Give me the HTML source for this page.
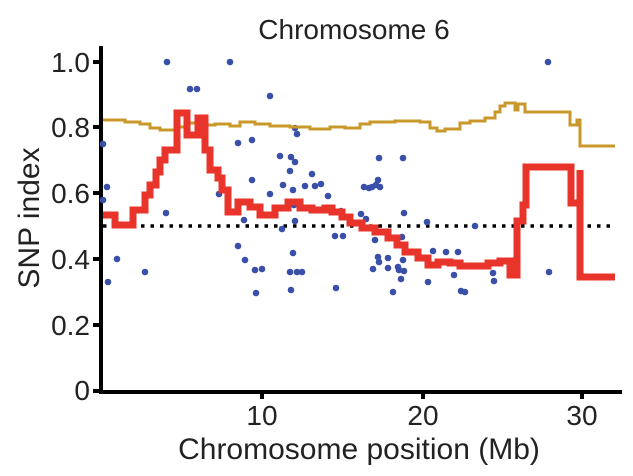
<!DOCTYPE html>
<html><head><meta charset="utf-8"><style>body{margin:0;background:#fff}svg{display:block}</style></head><body>
<svg width="633" height="476" xmlns="http://www.w3.org/2000/svg" font-family="Liberation Sans, sans-serif">
<text x="354" y="39" font-size="28" text-anchor="middle" fill="#222">Chromosome 6</text>
<text x="359" y="459" font-size="30" text-anchor="middle" fill="#222">Chromosome position (Mb)</text>
<text transform="translate(39,218) rotate(-90)" font-size="30" text-anchor="middle" fill="#222">SNP index</text>
<g font-size="28" fill="#222" text-anchor="end">
<text x="90" y="72">1.0</text><text x="90" y="137">0.8</text><text x="90" y="203">0.6</text>
<text x="90" y="269">0.4</text><text x="90" y="335">0.2</text><text x="90" y="400">0</text>
</g>
<g font-size="28" fill="#222" text-anchor="middle">
<text x="262" y="425">10</text><text x="423" y="425">20</text><text x="582" y="425">30</text>
</g>
<g stroke="#000" stroke-width="4" fill="none">
<path d="M101 46 V392 H622"/>
<path d="M93 62H101M93 127H101M93 193H101M93 259H101M93 325H101M93 391H101"/>
<path d="M262 391V399M423 391V399M582 391V399"/>
</g>
<line x1="103" y1="226" x2="615" y2="226" stroke="#000" stroke-width="3.5" stroke-dasharray="3.5,6"/>
<g fill="#3a4fa8">
<circle cx="103" cy="144" r="3.3"/><circle cx="107" cy="187" r="3.3"/><circle cx="103" cy="200" r="3.3"/><circle cx="108" cy="282" r="3.3"/><circle cx="117" cy="259" r="3.3"/><circle cx="145" cy="272" r="3.3"/><circle cx="167" cy="62" r="3.3"/><circle cx="166" cy="213" r="3.3"/><circle cx="190" cy="89" r="3.3"/><circle cx="197" cy="89" r="3.3"/><circle cx="219" cy="194" r="3.3"/><circle cx="230" cy="62" r="3.3"/><circle cx="238" cy="143" r="3.3"/><circle cx="245" cy="260" r="3.3"/><circle cx="238" cy="246" r="3.3"/><circle cx="244" cy="220" r="3.3"/><circle cx="252" cy="140" r="3.3"/><circle cx="255" cy="270" r="3.3"/><circle cx="262" cy="269" r="3.3"/><circle cx="252" cy="180" r="3.3"/><circle cx="256" cy="293" r="3.3"/><circle cx="270" cy="96" r="3.3"/><circle cx="270" cy="194" r="3.3"/><circle cx="282" cy="229" r="3.3"/><circle cx="280" cy="156" r="3.3"/><circle cx="283" cy="185" r="3.3"/><circle cx="290" cy="171" r="3.3"/><circle cx="293" cy="190" r="3.3"/><circle cx="294" cy="205" r="3.3"/><circle cx="295" cy="221" r="3.3"/><circle cx="293" cy="253" r="3.3"/><circle cx="290" cy="272" r="3.3"/><circle cx="297" cy="272" r="3.3"/><circle cx="302" cy="272" r="3.3"/><circle cx="291" cy="290" r="3.3"/><circle cx="297" cy="134" r="3.3"/><circle cx="295" cy="128" r="3.3"/><circle cx="291" cy="157" r="3.3"/><circle cx="295" cy="162" r="3.3"/><circle cx="312" cy="174" r="3.3"/><circle cx="305" cy="186" r="3.3"/>
<circle cx="315" cy="186" r="3.3"/><circle cx="321" cy="184" r="3.3"/><circle cx="328" cy="196" r="3.3"/><circle cx="341" cy="211" r="3.3"/><circle cx="335" cy="236" r="3.3"/><circle cx="343" cy="236" r="3.3"/><circle cx="336" cy="288" r="3.3"/><circle cx="361" cy="214" r="3.3"/><circle cx="366" cy="219" r="3.3"/><circle cx="364" cy="187" r="3.3"/><circle cx="369" cy="188" r="3.3"/><circle cx="372" cy="187" r="3.3"/><circle cx="376" cy="185" r="3.3"/><circle cx="378" cy="180" r="3.3"/><circle cx="380" cy="187" r="3.3"/><circle cx="375" cy="240" r="3.3"/><circle cx="379" cy="158" r="3.3"/><circle cx="403" cy="158" r="3.3"/><circle cx="373" cy="269" r="3.3"/><circle cx="378" cy="257" r="3.3"/><circle cx="379" cy="262" r="3.3"/><circle cx="388" cy="258" r="3.3"/><circle cx="388" cy="268" r="3.3"/><circle cx="398" cy="267" r="3.3"/><circle cx="403" cy="260" r="3.3"/><circle cx="399" cy="270" r="3.3"/><circle cx="404" cy="271" r="3.3"/><circle cx="401" cy="279" r="3.3"/><circle cx="402" cy="237" r="3.3"/><circle cx="393" cy="292" r="3.3"/><circle cx="404" cy="213" r="3.3"/><circle cx="427" cy="222" r="3.3"/><circle cx="433" cy="251" r="3.3"/><circle cx="428" cy="282" r="3.3"/><circle cx="454" cy="275" r="3.3"/><circle cx="446" cy="252" r="3.3"/><circle cx="458" cy="252" r="3.3"/><circle cx="461" cy="291" r="3.3"/><circle cx="465" cy="292" r="3.3"/><circle cx="475" cy="226" r="3.3"/><circle cx="493" cy="273" r="3.3"/><circle cx="494" cy="281" r="3.3"/><circle cx="548" cy="62" r="3.3"/><circle cx="549" cy="272" r="3.3"/>
</g>
<path fill="none" stroke="#c9982a" stroke-width="3" d="M103 120 H125 V122 H140 V124 H150 V128 H160 V130 H175 V127 H185 V123 H200 V125 H215 V124 H230 V126 H240 V122 H255 V124 H270 V126 H290 V127 H310 V129 H330 V127 H345 V128 H360 V124 H370 V122 H395 V121 H420 V122 H430 V128 H437 V131 H445 V129 H460 V123 H470 V121 H485 V118 H495 V112 H500 V106 H505 V103 H515 V110 H518 V104 H525 V112 H570 V125 H577 V120 H580 V146 H615"/>
<path fill="none" stroke="#e8342a" stroke-width="7" stroke-linejoin="miter" d="M103 215 H115 V225 H133 V210 H145 V195 H150 V185 H156 V172 H160 V160 H165 V150 H177 V113 H187 V135 H198 V118 H205 V150 H210 V170 H218 V178 H222 V190 H228 V212 H238 V202 H250 V207 H260 V215 H275 V208 H288 V202 H300 V208 H312 V210 H325 V208 H332 V212 H342 V217 H350 V223 H362 V228 H375 V232 H388 V238 H397 V245 H405 V252 H418 V258 H428 V265 H438 V262 H450 V263 H460 V266 H488 V263 H500 V261 H510 V275 H517 V221 H523 V205 H526 V167 H571 V203 H580 V170 V277 H615"/>
</svg>
</body></html>
